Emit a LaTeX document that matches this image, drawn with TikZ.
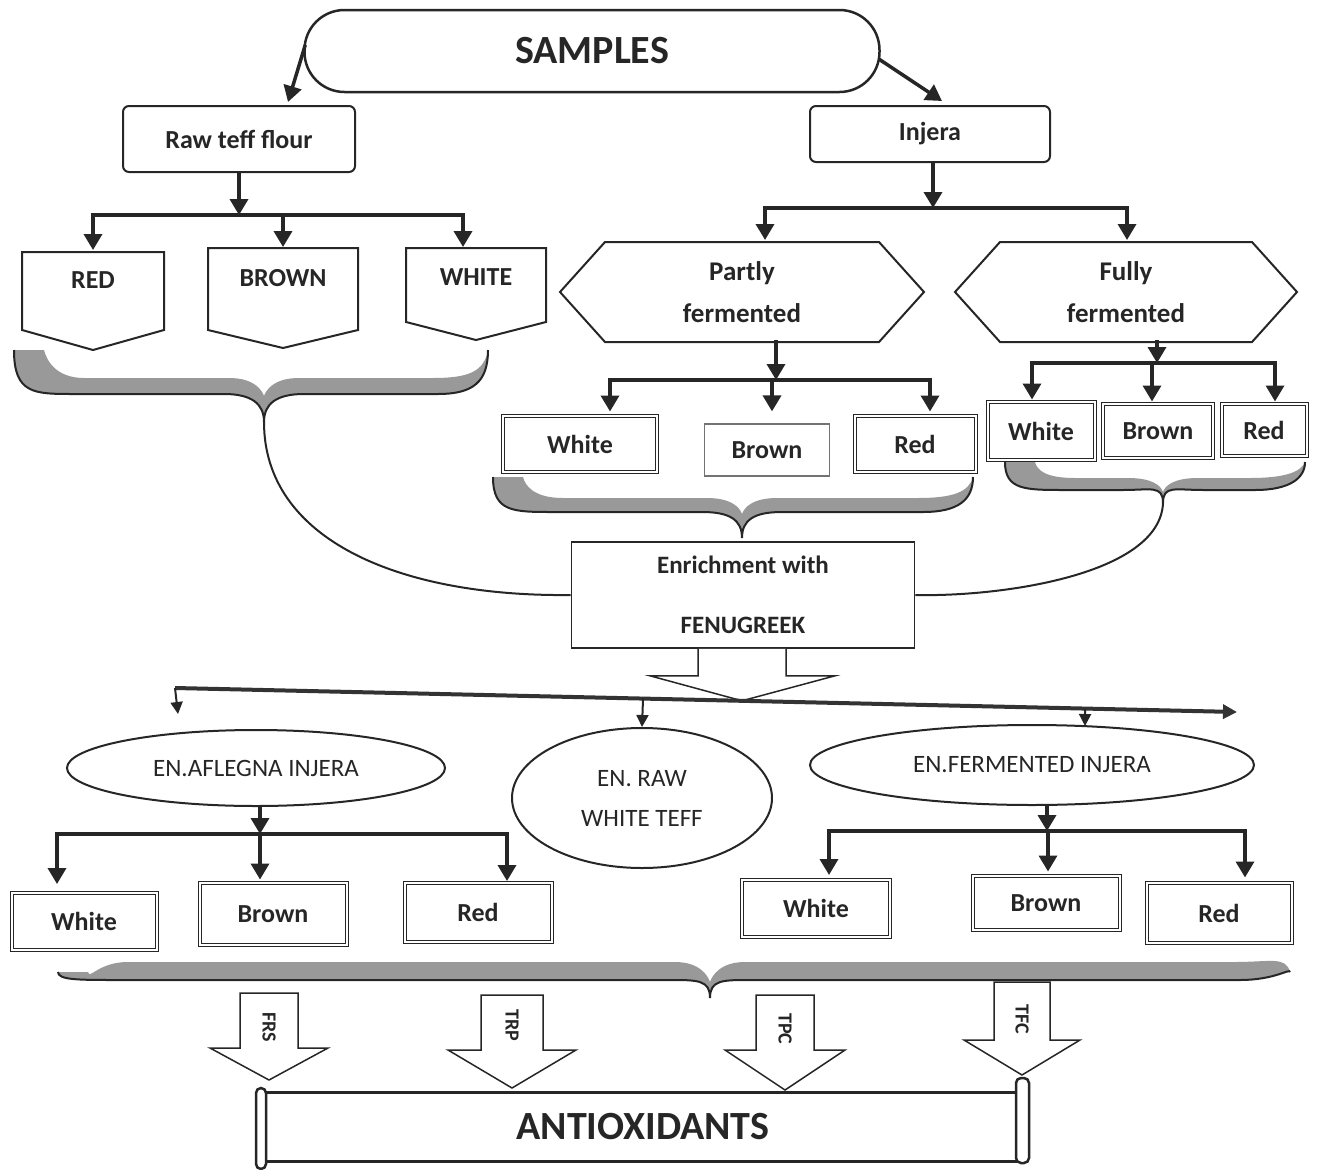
\documentclass[tikz,border=0pt]{standalone}
\usepackage{fontspec}
\setmainfont{Carlito}
\usetikzlibrary{arrows.meta,calc,shapes.geometric}

\newcommand\gbrace[8]{%
 \coordinate (#8) at (#5,#6);
 \fill[black!40] (#1,#3) .. controls (#1,#4) and ({#1+20},#4) .. ({#1+60},#4)
  -- ({#5-40},#4) .. controls ({#5-12},#4) and (#5,{#6-18}) .. (#8)
  .. controls (#5,{#6-18}) and ({#5+12},#4) .. ({#5+40},#4)
  -- ({#2-50},#4) .. controls ({#2-15},#4) and (#2,{#4-12}) .. (#2,#3)
  .. controls ({#2-4},{#4-#7-6}) and ({#2-20},{#4-#7}) .. ({#2-55},{#4-#7})
  -- ({#5+35},{#4-#7}) .. controls ({#5+10},{#4-#7}) and ({#5+2},{#4-4}) .. (#5,{#4+2})
  .. controls ({#5-2},{#4-4}) and ({#5-10},{#4-#7}) .. ({#5-35},{#4-#7})
  -- ({#1+70},{#4-#7}) .. controls ({#1+40},{#4-#7}) and ({#1+32},{#3+8}) .. ({#1+30},#3)
  -- cycle;
 \draw[black!85, line width=2pt] (#1,#3) .. controls (#1,#4) and ({#1+20},#4) .. ({#1+60},#4)
  -- ({#5-40},#4) .. controls ({#5-12},#4) and (#5,{#6-18}) .. (#8)
  .. controls (#5,{#6-18}) and ({#5+12},#4) .. ({#5+40},#4)
  -- ({#2-50},#4) .. controls ({#2-15},#4) and (#2,{#4-12}) .. (#2,#3);
}
\newcommand\hexa[4]{%
 \draw[outl] ($(#1)+(-#2,0)$) -- ($(#1)+({-#2+#4},-#3)$) -- ($(#1)+({#2-#4},-#3)$) -- ($(#1)+(#2,0)$)
  -- ($(#1)+({#2-#4},#3)$) -- ($(#1)+({-#2+#4},#3)$) -- cycle;
}
\newcommand\hollow[6]{%
 \draw[outl, line width=1.5pt, fill=white] ($(#1)+(-#2,#3)$) -- ($(#1)+(-#2,#4)$) -- ($(#1)+(-#5,#4)$) -- ($(#1)+(0,#6)$)
  -- ($(#1)+(#5,#4)$) -- ($(#1)+(#2,#4)$) -- ($(#1)+(#2,#3)$) -- cycle;
}

\begin{document}
\begin{tikzpicture}[x=1pt,y=-1pt,
 txt/.style={font=\bfseries\fontsize{26}{30}\selectfont, text=black!85},
 outl/.style={draw=black!85, line width=2pt},
 rbox/.style={txt, outl, rounded corners=6pt, inner sep=0pt},
 dbox/.style={txt, draw=black!85, line width=1pt, double=white, double distance=2pt, inner sep=0pt},
 arr/.style={draw=black!85, line width=3.5pt, -{Triangle[width=18pt,length=16pt]}},
 ln/.style={draw=black!85, line width=3.5pt, line cap=rect},
 tarr/.style={draw=black!85, line width=2pt, -{Triangle[width=12pt,length=12pt]}},
 ell/.style={ellipse, draw=black!85, line width=2pt, inner sep=0pt, font=\fontsize{25}{40}\selectfont, text=black!85},
 vtxt/.style={txt, rotate=-90, font=\bfseries\fontsize{20}{24}\selectfont}
]
\useasboundingbox (0,0) rectangle (1318,1170);

% ---------- top ----------
\node[rbox, minimum width=575, minimum height=82, rounded corners=40pt, line width=2.5pt,
      font=\bfseries\fontsize{40}{44}\selectfont] (samples) at (592,51) {SAMPLES};
\node[rbox, minimum width=232, minimum height=66] (raw) at (239,139) {Raw teff flour};
\node[rbox, minimum width=240, minimum height=56] (injera) at (930,134) {Injera};
\draw[arr] ($(samples.west)+(2,-6)$) -- ($(raw.north)+(49,-3)$);
\draw[arr] ($(samples.east)+(-2,8)$) -- ($(injera.north)+(12,-4)$);

% ---------- raw teff branch ----------
\node[txt] (red) at (93,280) {RED};
\node[txt] (brown) at (283,278) {BROWN};
\node[txt] (white) at (476,277) {WHITE};
\draw[outl] ($(red)+(-71,-28)$) -- ($(red)+(71,-28)$) -- ($(red)+(71,50)$) -- ($(red)+(0,70)$) -- ($(red)+(-71,50)$) -- cycle;
\draw[outl] ($(brown)+(-75,-30)$) -- ($(brown)+(75,-30)$) -- ($(brown)+(75,52)$) -- ($(brown)+(0,70)$) -- ($(brown)+(-75,52)$) -- cycle;
\draw[outl] ($(white)+(-70,-29)$) -- ($(white)+(70,-29)$) -- ($(white)+(70,45)$) -- ($(white)+(0,63)$) -- ($(white)+(-70,45)$) -- cycle;
\coordinate (rawj) at ($(raw.south)+(0,42)$);
\coordinate (redt) at ($(red)+(0,-30)$);
\coordinate (brownt) at ($(brown)+(0,-31)$);
\coordinate (whitet) at ($(white)+(-13,-30)$);
\draw[arr] (raw.south) -- (rawj);
\draw[ln] (rawj -| redt) -- (rawj -| whitet);
\draw[arr] (rawj -| redt) -- (redt);
\draw[arr] (rawj -| brownt) -- (brownt);
\draw[arr] (rawj -| whitet) -- (whitet);
\gbrace{14}{488}{350}{394}{264}{422}{16}{b1tip}

% ---------- injera branch ----------
\coordinate (injj) at ($(injera.south)+(3,45)$);
\draw[arr] ($(injera.south)+(3,0)$) -- (injj);
\node[txt, align=center, font=\bfseries\fontsize{27}{42}\selectfont] (partly) at (742,292) {Partly\\fermented};
\node[txt, align=center, font=\bfseries\fontsize{27}{42}\selectfont] (fully) at (1126,292) {Fully\\fermented};
\hexa{partly}{182}{50}{45}
\hexa{fully}{171}{50}{45}
\coordinate (pt) at ($(partly)+(23,-52)$);
\coordinate (ft) at ($(fully)+(1,-52)$);
\draw[ln] (injj -| pt) -- (injj -| ft);
\draw[arr] (injj -| pt) -- (pt);
\draw[arr] (injj -| ft) -- (ft);

% partly fermented
\node[dbox, minimum width=154, minimum height=56] (pw) at (580,444) {White};
\node[txt, draw=black!55, line width=1.2pt, inner sep=0pt, minimum width=125, minimum height=52] (pb) at (767,450) {Brown};
\node[dbox, minimum width=121, minimum height=56] (pr) at (915,444) {Red};
\coordinate (pj) at ($(partly)+(34,88)$);
\draw[arr] ($(partly)+(34,48)$) -- (pj);
\coordinate (pwt) at ($(pw.north)+(30,-4)$);
\coordinate (pbt) at ($(pb.north)+(5,-12)$);
\coordinate (prt) at ($(pr.north)+(15,-4)$);
\draw[ln] (pj -| pwt) -- (pj -| prt);
\draw[arr] (pj -| pwt) -- (pwt);
\draw[arr] (pj -| pbt) -- (pbt);
\draw[arr] (pj -| prt) -- (prt);
\gbrace{493}{973}{477}{512}{742}{538}{14}{b2tip}

% fully fermented
\node[dbox, minimum width=107, minimum height=58] (fw) at (1041,431) {White};
\node[dbox, minimum width=110, minimum height=54] (fb) at (1158,431) {Brown};
\node[dbox, minimum width=85, minimum height=52] (fr) at (1264,430) {Red};
\coordinate (fj) at ($(fully)+(31,71)$);
\draw[arr] ($(fully)+(31,48)$) -- (fj);
\coordinate (fwt) at ($(fw.north)+(-9,-2)$);
\coordinate (fbt) at ($(fb.north)+(-6,-2)$);
\coordinate (frt) at ($(fr.north)+(11,-2)$);
\draw[ln] (fj -| fwt) -- (fj -| frt);
\draw[arr] (fj -| fwt) -- (fwt);
\draw[arr] (fj -| fbt) -- (fbt);
\draw[arr] (fj -| frt) -- (frt);
\gbrace{1005}{1305}{462}{490}{1163}{503}{12}{b3tip}

% ---------- enrichment ----------
\node[txt, outl, line width=1.6pt, minimum width=343, minimum height=106, align=center,
      font=\bfseries\fontsize{25}{60}\selectfont] (enrich) at (743,595) {Enrichment with\\FENUGREEK};
\draw[line width=2pt, black!85] (b1tip) .. controls (264,540) and (400,597) .. (enrich.west);
\draw[line width=2pt, black!85] (b3tip) .. controls (1160,575) and (1000,597) .. (enrich.east);
\draw[outl, line width=1.5pt, fill=white] ($(enrich.south)+(-45,0)$) -- ($(enrich.south)+(-45,27)$) -- ($(enrich.south)+(-93,27)$)
  -- ($(enrich.south)+(-1,52)$) -- ($(enrich.south)+(92,27)$) -- ($(enrich.south)+(43,27)$) -- ($(enrich.south)+(43,0)$);

% ---------- distribution line ----------
\coordinate (hl) at (175,688);
\coordinate (hr) at (1237,712);
\draw[draw=black!80, line width=4pt, -{Triangle[width=14pt,length=14pt]}] (hl) -- (hr);
\draw[tarr] (hl) -- ++(3,26);

\node[ell, minimum width=378, minimum height=76] (enafl) at (256,768) {EN.AFLEGNA INJERA};
\node[ell, minimum width=260, minimum height=140, align=center] (enraw) at (642,798) {EN. RAW\\WHITE TEFF};
\node[ell, minimum width=444, minimum height=80] (enferm) at (1032,765) {EN.FERMENTED INJERA};
\draw[tarr] ($(hl)!0.4407!(hr)$) -- (enraw.north);
\draw[tarr] ($(hl)!0.857!(hr)$) -- ($(enferm.north)+(53,2)$);

% aflegna branch
\node[dbox, minimum width=145, minimum height=57] (aw) at (84,921) {White};
\node[dbox, minimum width=147, minimum height=62] (ab) at (273,914) {Brown};
\node[dbox, minimum width=147, minimum height=59] (ar) at (478,912) {Red};
\coordinate (aj) at ($(enafl.south)+(4,27)$);
\draw[arr] ($(enafl.south)+(4,0)$) -- (aj);
\coordinate (awt) at ($(aw.north)+(-27,-8)$);
\coordinate (abt) at ($(ab.north)+(-13,-3)$);
\coordinate (art) at ($(ar.north)+(29,-1)$);
\draw[ln] (aj -| awt) -- (aj -| art);
\draw[arr] (aj -| awt) -- (awt);
\draw[arr] (aj -| abt) -- (abt);
\draw[arr] (aj -| art) -- (art);

% fermented branch
\node[dbox, minimum width=148, minimum height=57] (ew) at (816,908) {White};
\node[dbox, minimum width=147, minimum height=54] (eb) at (1046,903) {Brown};
\node[dbox, minimum width=145, minimum height=60] (er) at (1219,913) {Red};
\coordinate (ej) at ($(enferm.south)+(15,25)$);
\draw[arr] ($(enferm.south)+(15,0)$) -- (ej);
\coordinate (ewt) at ($(ew.north)+(13,-4)$);
\coordinate (ebt) at ($(eb.north)+(2,-4)$);
\coordinate (ert) at ($(er.north)+(26,-5)$);
\draw[ln] (ej -| ewt) -- (ej -| ert);
\draw[arr] (ej -| ewt) -- (ewt);
\draw[arr] (ej -| ebt) -- (ebt);
\draw[arr] (ej -| ert) -- (ert);

\gbrace{58}{1290}{972}{980}{710}{998}{18}{b4tip}

% ---------- assays ----------
\coordinate (frsc) at (269,1027);
\coordinate (trpc) at (512,1025);
\coordinate (tpcc) at (785,1029);
\coordinate (tfcc) at (1022,1019);
\hollow{frsc}{29}{-34}{21}{59}{53}
\hollow{trpc}{31}{-30}{25}{64}{63}
\hollow{tpcc}{29}{-34}{21}{60}{61}
\hollow{tfcc}{28}{-37}{21}{58}{56}
\node[vtxt] (frs) at (frsc) {FRS};
\node[vtxt] (trp) at (trpc) {TRP};
\node[vtxt] (tpc) at (tpcc) {TPC};
\node[vtxt] (tfc) at (tfcc) {TFC};

% ---------- antioxidants ----------
\node[draw=black!85, line width=3pt, minimum width=757, minimum height=69,
      font=\bfseries\fontsize{40}{44}\selectfont, text=black!85] (anti) at (643,1127) {ANTIOXIDANTS};
\draw[draw=black!85, line width=2.5pt, fill=white, rounded corners=5pt] ($(anti.south west)+(-7,6)$) rectangle ($(anti.north west)+(3,-3)$);
\draw[draw=black!85, line width=2.5pt, fill=white, rounded corners=5pt] ($(anti.north east)+(-7,-13)$) rectangle ($(anti.south east)+(6,0)$);
\end{tikzpicture}
\end{document}
